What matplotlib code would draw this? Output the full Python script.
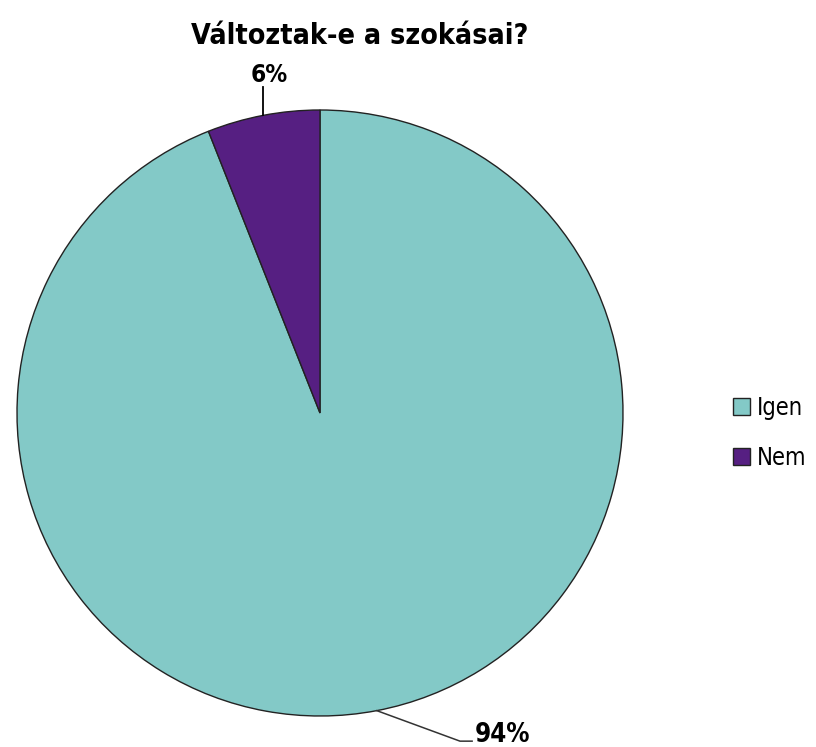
import numpy as np
import matplotlib
matplotlib.use("Agg")
import matplotlib.pyplot as plt

labels = ['Igen', 'Nem']
values = [94, 6]
colors = ['#83C9C7', '#561F82']

plt.rcParams['font.family'] = ['DejaVu Sans']
plt.rcParams['font.stretch'] = 'condensed'

fig = plt.figure(figsize=(8.16, 7.47), dpi=100)
# pie centre ~ (320, 413) px, radius ~303 px
ax = fig.add_axes([17 / 816, 31 / 747, 606 / 816, 606 / 747])

wedges, _ = ax.pie(values, colors=colors, startangle=90, counterclock=False,
                   radius=1.0, wedgeprops=dict(edgecolor='#222222', linewidth=1.0))
ax.set_xlim(-1, 1)
ax.set_ylim(-1, 1)
ax.set_aspect('equal')
ax.axis('off')

# data labels with leader lines
for w, v in zip(wedges, values):
    mid = np.deg2rad((w.theta1 + w.theta2) / 2)
    x, y = np.cos(mid), np.sin(mid)
    if y > 0:
        ax.plot([x, x], [y, 1.075], color='black', lw=1.3, clip_on=False)
        ax.text(x + 0.02, 1.115, f'{v}%', ha='center', va='center',
                fontsize=17.5, fontweight='bold')
    else:
        ax.plot([x, 0.462, 0.502], [y, -1.083, -1.083], color='#333333',
                lw=1.1, clip_on=False)
        ax.text(0.51, -1.063, f'{v}%', ha='left', va='center',
                fontsize=18.5, fontweight='bold')

fig.text(360 / 816, 1 - 36 / 747, 'Változtak-e a szokásai?', ha='center', va='center',
         fontsize=20.5, fontweight='bold')

leg = fig.legend(wedges, labels, loc='center left', bbox_to_anchor=(712 / 816, 1 - 433 / 747),
                 frameon=False, fontsize=17, handlelength=0.7, handleheight=0.7,
                 handletextpad=0.3, labelspacing=1.1)
for h in leg.legend_handles:
    h.set_edgecolor('#222222')
    h.set_linewidth(1.0)

fig.savefig('out.png', dpi=100)
